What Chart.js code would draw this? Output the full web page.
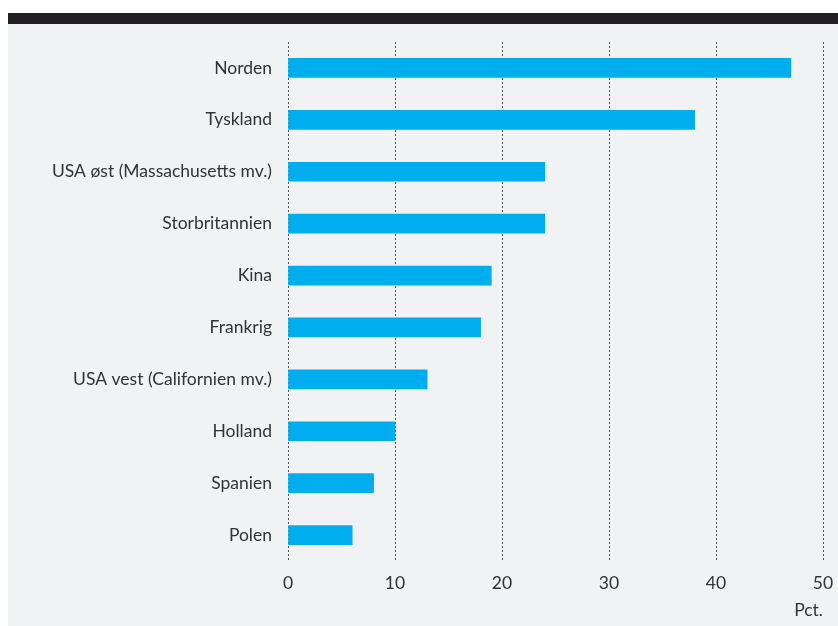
<!DOCTYPE html>
<html>
<head>
<meta charset="utf-8">
<script src="https://cdn.jsdelivr.net/npm/chart.js@4"></script>
<style>
  html, body { margin: 0; padding: 0; background: #ffffff; }
  body { width: 838px; height: 626px; position: relative; overflow: hidden; }
  #topbar { position: absolute; left: 8px; top: 13px; width: 830px; height: 11px; background: #231f20; }
  #panel { position: absolute; left: 8px; top: 24px; width: 830px; height: 602px; background: #f1f2f4; }
  #panel canvas { display: block; }
</style>
</head>
<body>
<div id="topbar"></div>
<div id="panel"><canvas id="c" width="830" height="602"></canvas></div>
<script>
const categories = ["Norden", "Tyskland", "USA øst (Massachusetts mv.)", "Storbritannien", "Kina", "Frankrig", "USA vest (Californien mv.)", "Holland", "Spanien", "Polen"];
const values = [47, 38, 24, 24, 19, 18, 13, 10, 8, 6];
const xTicks = [0, 10, 20, 30, 40, 50];
const unitLabel = "Pct.";

const textColor = "#333333";
const fontFamily = "Lato, 'Open Sans', sans-serif";

new Chart(document.getElementById("c"), {
  type: "bar",
  data: {
    labels: categories,
    datasets: [{
      data: values,
      backgroundColor: "#00aeef",
      borderWidth: 0,
      barThickness: 19
    }]
  },
  options: {
    indexAxis: "y",
    responsive: false,
    animation: false,
    layout: { padding: { left: 0, right: 15, top: 18, bottom: 0 } },
    plugins: { legend: { display: false }, tooltip: { enabled: false } },
    scales: {
      x: {
        min: xTicks[0],
        max: xTicks[xTicks.length - 1],
        afterBuildTicks: (s) => { s.ticks = xTicks.map(v => ({ value: v })); },
        afterFit: (s) => { s.height = 65; s.paddingLeft = 0; s.paddingRight = 0; },
        grid: { color: "#555555", lineWidth: 1, drawTicks: false },
        border: { display: false, dash: [2, 2] },
        ticks: { color: textColor, font: { family: fontFamily, size: 17.5 }, padding: 12 },
        title: {
          display: true, text: unitLabel, align: "end",
          color: textColor, font: { family: fontFamily, size: 17.5 },
          padding: { top: 0, bottom: 5 }
        }
      },
      y: {
        afterFit: (s) => { s.width = 280; s.paddingTop = 0; s.paddingBottom = 0; },
        grid: { display: false, drawTicks: false },
        border: { display: false },
        ticks: { color: textColor, font: { family: fontFamily, size: 17.5 }, padding: 16 }
      }
    }
  }
});
</script>
</body>
</html>
